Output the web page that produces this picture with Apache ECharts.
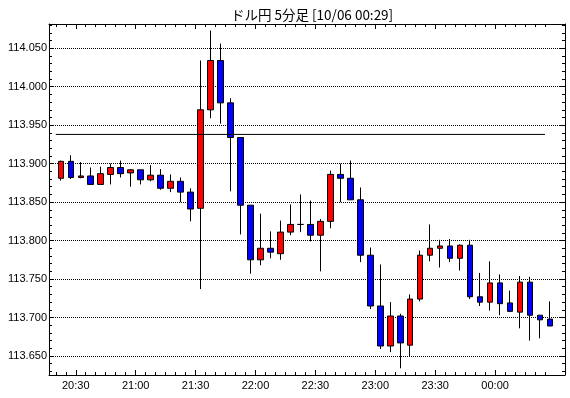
<!DOCTYPE html>
<html><head><meta charset="utf-8">
<script src="https://cdn.jsdelivr.net/npm/echarts@6/dist/echarts.min.js"></script>
<style>html,body{margin:0;padding:0;background:#fff}#c{width:570px;height:398px}</style>
</head><body><div id="c"></div>
<script>
const chartTitle = 'ドル円 5分足 [10/06 00:29]';
const times = ['20:20','20:25','20:30','20:35','20:40','20:45','20:50','20:55','21:00','21:05',
  '21:10','21:15','21:20','21:25','21:30','21:35','21:40','21:45','21:50','21:55',
  '22:00','22:05','22:10','22:15','22:20','22:25','22:30','22:35','22:40','22:45',
  '22:50','22:55','23:00','23:05','23:10','23:15','23:20','23:25','23:30','23:35',
  '23:40','23:45','23:50','23:55','00:00','00:05','00:10','00:15','00:20','00:25'];
const opens = [113.881,113.903,113.882,113.884,113.873,113.886,113.895,113.888,113.892,113.879,
  113.885,113.868,113.877,113.863,113.842,113.970,114.034,113.979,113.934,113.846,
  113.775,113.790,113.783,113.811,113.821,113.821,113.807,113.825,113.886,113.881,
  113.853,113.781,113.715,113.663,113.702,113.664,113.724,113.781,113.790,113.793,
  113.777,113.794,113.727,113.720,113.745,113.719,113.707,113.746,113.703,113.698];
const closes = [113.903,113.882,113.884,113.873,113.887,113.895,113.887,113.892,113.879,113.885,
  113.868,113.877,113.863,113.841,113.970,114.034,113.979,113.934,113.846,113.775,
  113.790,113.785,113.811,113.821,113.821,113.807,113.825,113.886,113.881,113.853,
  113.781,113.715,113.663,113.702,113.667,113.724,113.781,113.790,113.793,113.777,
  113.794,113.727,113.720,113.745,113.718,113.708,113.746,113.703,113.697,113.689];
const lows = [113.878,113.880,113.881,113.873,113.873,113.873,113.882,113.870,113.873,113.877,
  113.866,113.863,113.850,113.825,113.737,113.959,113.952,113.864,113.808,113.757,
  113.768,113.777,113.775,113.807,113.811,113.799,113.760,113.816,113.850,113.853,
  113.772,113.711,113.659,113.655,113.634,113.650,113.721,113.773,113.765,113.772,
  113.761,113.724,113.715,113.709,113.703,113.707,113.686,113.670,113.673,113.689];
const highs = [113.904,113.911,113.902,113.895,113.896,113.900,113.904,113.893,113.892,113.898,
  113.893,113.886,113.882,113.868,114.034,114.073,114.056,113.985,113.934,113.846,
  113.835,113.812,113.826,113.847,113.860,113.852,113.828,113.891,113.900,113.904,
  113.869,113.791,113.769,113.720,113.705,113.730,113.787,113.821,113.801,113.802,
  113.795,113.801,113.758,113.773,113.756,113.735,113.754,113.753,113.703,113.721];
const refLevel = 113.938;
const xTickLabels = ['20:30','21:00','21:30','22:00','22:30','23:00','23:30','00:00'];
const yTickLabels = [113.650,113.700,113.750,113.800,113.850,113.900,113.950,114.000,114.050];
const yMinorTicks = [113.63,113.64,113.65,113.66,113.67,113.68,113.69,113.70,113.71,113.72,
  113.73,113.74,113.75,113.76,113.77,113.78,113.79,113.80,113.81,113.82,113.83,113.84,113.85,
  113.86,113.87,113.88,113.89,113.90,113.91,113.92,113.93,113.94,113.95,113.96,113.97,113.98,
  113.99,114.00,114.01,114.02,114.03,114.04,114.05,114.06,114.07,114.08];

function toMin(s){ const p = s.split(':').map(Number); return (p[0] < 12 ? p[0] + 24 : p[0]) * 60 + p[1]; }
function fmtMin(v){ v = Math.round(v) % 1440; const h = Math.floor(v / 60), m = v % 60; return String(h).padStart(2,'0') + ':' + String(m).padStart(2,'0'); }

const BAR = 5; // minutes per candle
const X_MIN = 1216.6, X_MAX = 1475;
const Y_MIN = 113.6253, Y_MAX = 114.0815;
const FONT = 'Liberation Sans';

const candleData = times.map((t, i) => [toMin(t) + BAR / 2, opens[i], closes[i], lows[i], highs[i]]);
const majorX = xTickLabels.map(toMin);
const minorX = times.map(toMin);

function xAx(pos, ticks, len, opts) {
  return Object.assign({
    type: 'value', position: pos, min: X_MIN, max: X_MAX,
    axisLine: { show: false },
    axisTick: { show: true, inside: true, length: len, customValues: ticks, lineStyle: { color: '#000', width: 1 } },
    axisLabel: { show: false },
    splitLine: { show: false }
  }, opts || {});
}
function yAx(pos, ticks, len, opts) {
  return Object.assign({
    type: 'value', position: pos, min: Y_MIN, max: Y_MAX,
    axisLine: { show: false },
    axisTick: { show: true, inside: true, length: len, customValues: ticks, lineStyle: { color: '#000', width: 1 } },
    axisLabel: { show: false },
    splitLine: { show: false }
  }, opts || {});
}
const blackLine = { show: true, onZero: false, lineStyle: { color: '#000', width: 1 } };

const chart = echarts.init(document.getElementById('c'), null, { renderer: 'canvas' });
chart.setOption({
  animation: false,
  backgroundColor: '#fff',
  title: {
    text: chartTitle, left: 226, top: 3,
    textStyle: { fontFamily: 'Noto Sans CJK JP', fontSize: 13.5, fontWeight: 'normal', color: '#000' }
  },
  grid: { left: 49, right: 5, top: 24, bottom: 23, containLabel: false },
  xAxis: [
    xAx('bottom', majorX, 5, {
      axisLine: blackLine,
      axisLabel: { show: true, customValues: majorX, formatter: fmtMin, color: '#000', fontSize: 11, fontFamily: FONT, margin: 5 }
    }),
    xAx('bottom', minorX, 3),
    xAx('top', majorX, 5, { axisLine: blackLine }),
    xAx('top', minorX, 3)
  ],
  yAxis: [
    yAx('left', yTickLabels, 5, {
      axisLine: blackLine,
      axisLabel: { show: true, customValues: yTickLabels, formatter: v => v.toFixed(3), color: '#000', fontSize: 11, fontFamily: FONT, margin: 2 },
      splitLine: { show: true, lineStyle: { color: '#000', width: 1, type: [1, 1] } }
    }),
    yAx('left', yMinorTicks, 3),
    yAx('right', yTickLabels, 5, { axisLine: blackLine }),
    yAx('right', yMinorTicks, 3)
  ],
  series: [
    {
      type: 'candlestick', xAxisIndex: 0, yAxisIndex: 0,
      barWidth: 6,
      data: candleData,
      itemStyle: {
        color: '#ff0000', color0: '#0000ff',
        borderColor: '#000', borderColor0: '#000', borderColorDoji: '#000',
        borderWidth: 1
      },
      z: 3
    },
    {
      type: 'line', xAxisIndex: 0, yAxisIndex: 0,
      data: [[toMin(times[0]), refLevel], [toMin(times[times.length - 1]), refLevel]],
      symbol: 'none', silent: true,
      lineStyle: { color: '#000', width: 1 },
      z: 5
    }
  ]
});
</script>
</body></html>
